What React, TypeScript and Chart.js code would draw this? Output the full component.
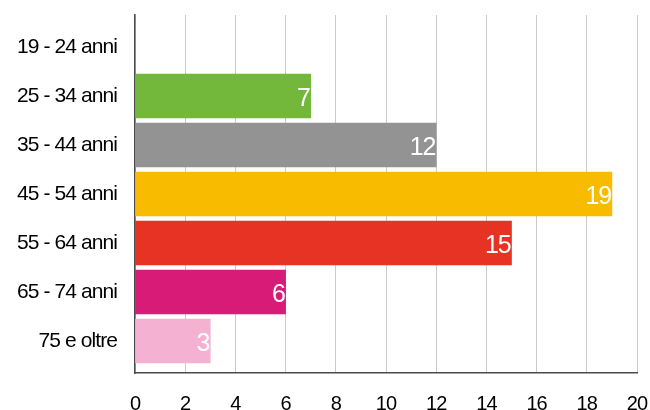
import React, { useEffect, useRef } from "react";
import { Chart, registerables } from "chart.js";

Chart.register(...registerables);

const categories = ["19 - 24 anni", "25 - 34 anni", "35 - 44 anni", "45 - 54 anni", "55 - 64 anni", "65 - 74 anni", "75 e oltre"];
const values = [0, 7, 12, 19, 15, 6, 3];
const colors = ["#74B83B", "#74B83B", "#939393", "#F8BB00", "#E63323", "#D81B77", "#F4B1D1"];
const xTicks = [0, 2, 4, 6, 8, 10, 12, 14, 16, 18, 20];

const FONT = "'Liberation Sans', Arial, sans-serif";

const labelPlugin = {
  id: "barLabels",
  beforeDraw(chart: any) {
    (chart.ctx as any).letterSpacing = "-0.9px";
  },
  afterDatasetsDraw(chart: any) {
    const ctx = chart.ctx;
    const meta = chart.getDatasetMeta(0);
    meta.data.forEach((bar: any, i: number) => {
      const v = values[i];
      if (!v) return;
      ctx.save();
      ctx.font = `25px ${FONT}`;
      (ctx as any).letterSpacing = "-1.2px";
      ctx.fillStyle = "#ffffff";
      ctx.textAlign = "right";
      ctx.textBaseline = "alphabetic";
      ctx.fillText(String(v), bar.x - 1, bar.y + 10);
      ctx.restore();
    });
  },
};

export default function App() {
  const ref = useRef<HTMLCanvasElement>(null);
  useEffect(() => {
    if (!ref.current) return;
    const chart = new Chart(ref.current, {
      type: "bar",
      data: {
        datasets: [
          {
            data: values.map((v, i) => ({ x: v, y: i })),
            backgroundColor: colors,
            borderWidth: 0,
            barThickness: 44,
          },
        ],
      },
      options: {
        indexAxis: "y",
        animation: false,
        responsive: false,
        maintainAspectRatio: false,
        layout: { padding: { top: 15, right: 13, left: 0, bottom: 0 } },
        plugins: { legend: { display: false }, tooltip: { enabled: false } },
        scales: {
          x: {
            type: "linear",
            min: 0,
            max: 20,
            afterBuildTicks: (s: any) => {
              s.ticks = xTicks.map((v) => ({ value: v }));
            },
            afterFit: (s: any) => {
              s.height = 37;
              s.paddingLeft = 0;
              s.paddingRight = 0;
            },
            grid: { display: true, color: "#cacaca", lineWidth: 1, drawTicks: false },
            border: { display: true, color: "#4a4a4a", width: 1.5 },
            ticks: { padding: 19, color: "#000", font: { family: FONT, size: 20 } },
          },
          y: {
            type: "linear",
            reverse: true,
            offset: false,
            min: -0.653,
            max: 6.653,
            afterBuildTicks: (s: any) => {
              s.ticks = categories.map((_, i) => ({ value: i }));
            },
            afterFit: (s: any) => {
              s.width = 135;
              s.paddingTop = 0;
              s.paddingBottom = 0;
            },
            grid: { display: false, drawTicks: false, offset: false },
            border: { display: true, color: "#4a4a4a", width: 1.5 },
            ticks: {
              padding: 18,
              color: "#000",
              font: { family: FONT, size: 21 },
              callback: (v: any) => (Number.isInteger(v) ? categories[v] : ""),
            },
          },
        },
      },
      plugins: [labelPlugin],
    } as any);
    return () => chart.destroy();
  }, []);
  return (
    <div style={{ position: "fixed", left: 0, top: 0, width: 650, height: 410, background: "#fff" }}>
      <canvas ref={ref} width={650} height={410} style={{ width: 650, height: 410 }} />
    </div>
  );
}
